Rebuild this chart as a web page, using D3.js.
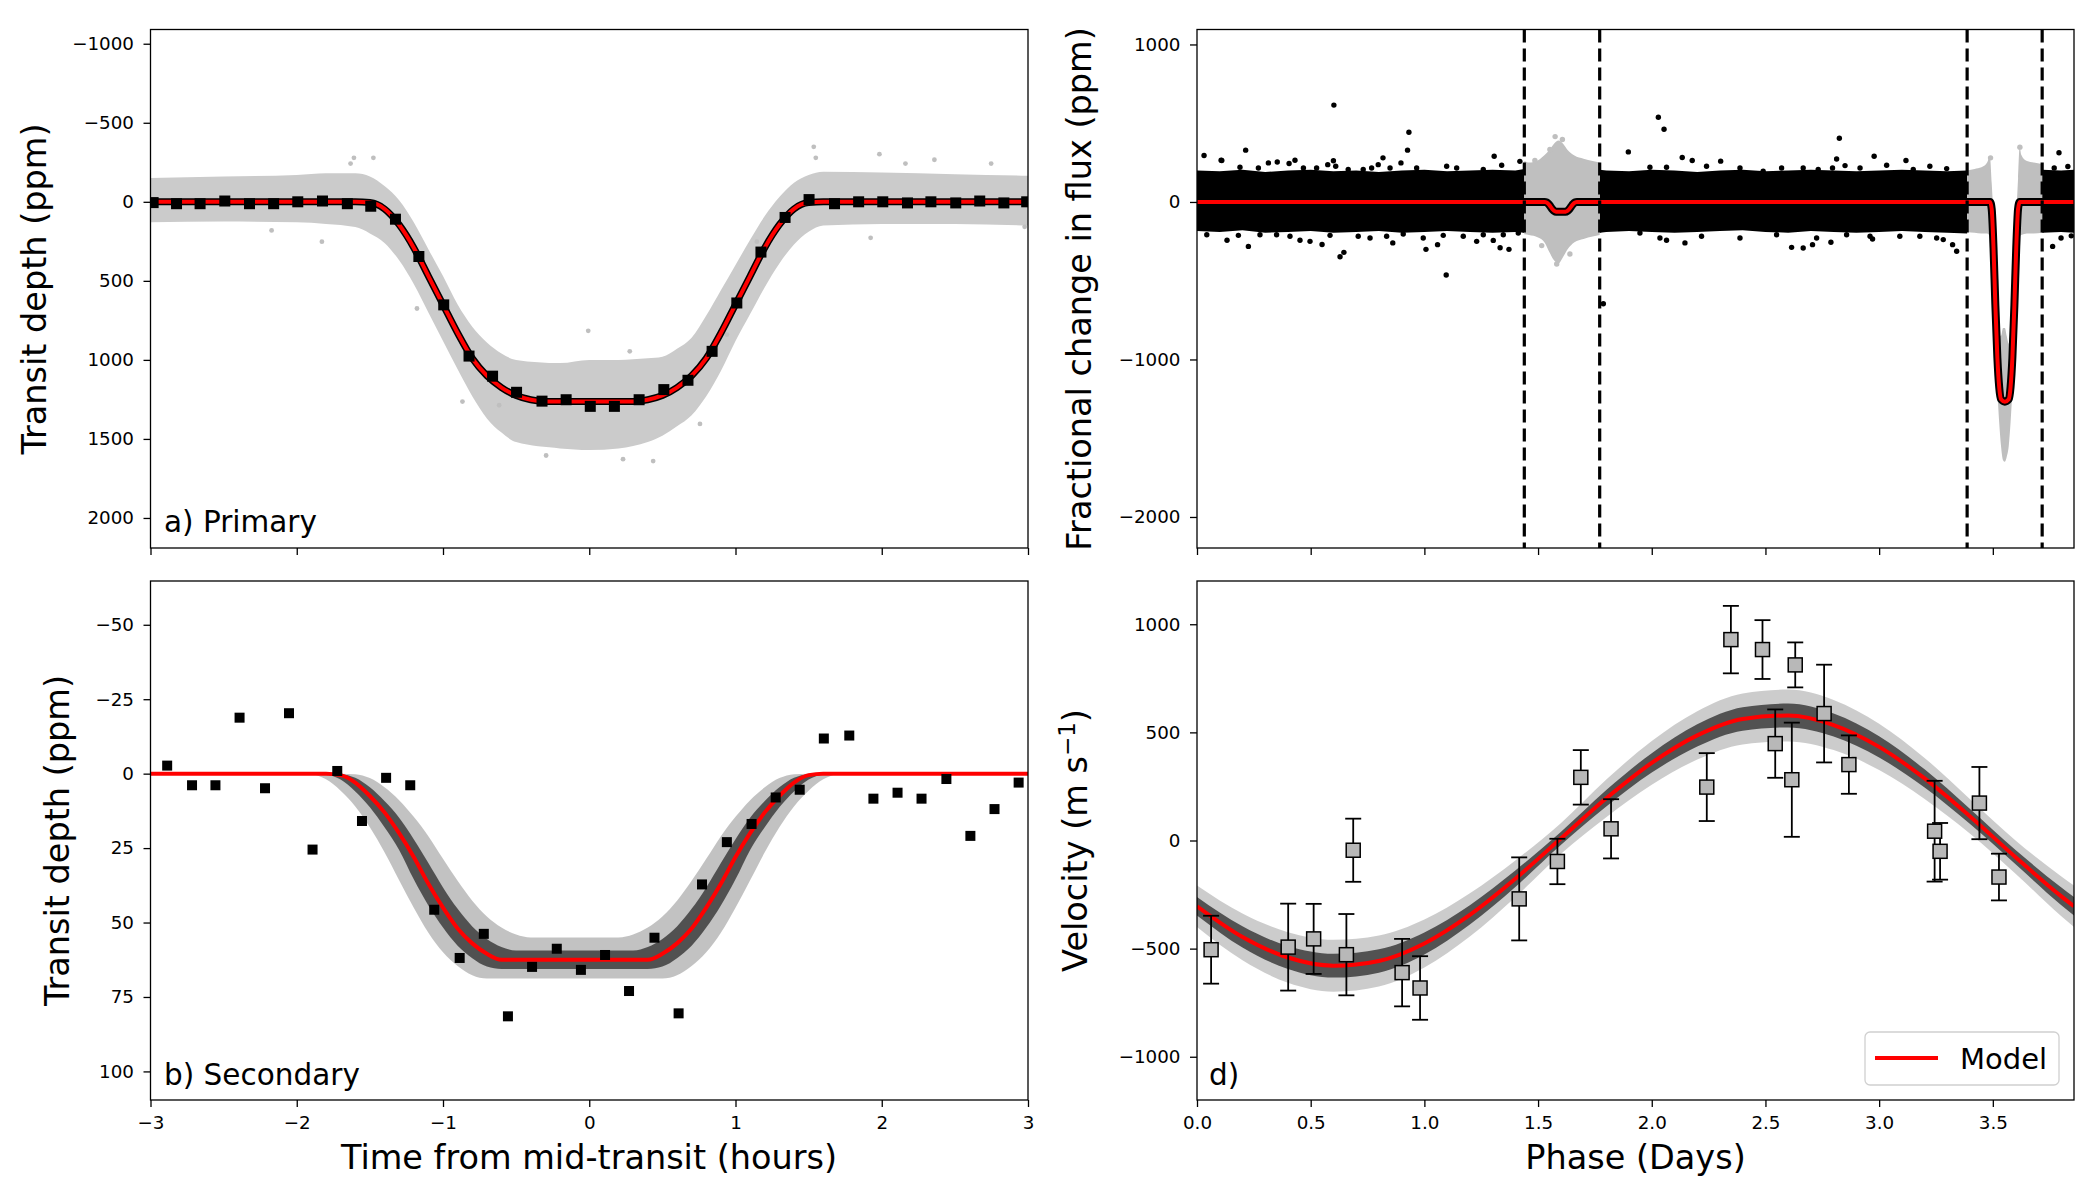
<!DOCTYPE html>
<html>
<head>
<meta charset="utf-8">
<script src="https://cdn.jsdelivr.net/npm/d3@7"></script>
<style>
body { margin: 0; background: #fff; }
svg { font-family: "DejaVu Sans", sans-serif; }
.axis text { font-size: 18.3px; fill: #000; font-family: "DejaVu Sans", sans-serif; }
.axis path { display: none; }
.axis line { stroke: #000; stroke-width: 1.3; }
</style>
</head>
<body>
<svg id="chart" width="2100" height="1200"></svg>
<script>
// ---- a) primary transit (hours, ppm depth) ----
const primBinTime = [-2.982, -2.822, -2.661, -2.492, -2.323, -2.158, -1.993, -1.824, -1.654, -1.494, -1.325, -1.165, -0.995, -0.822, -0.661, -0.497, -0.323, -0.158, 0.007, 0.172, 0.341, 0.510, 0.675, 0.840, 1.009, 1.174, 1.339, 1.503, 1.677, 1.842, 2.007, 2.176, 2.336, 2.506, 2.670, 2.835, 2.991]
const primBinDepth = [5, 12, 12, -5, 12, 12, 0, -5, 12, 28, 110, 346, 652, 976, 1103, 1205, 1261, 1252, 1294, 1294, 1252, 1188, 1129, 946, 640, 318, 99, -14, 12, 0, 0, 7, 0, 7, -5, 7, 0]
const primModelTime = [-3, -1.6, -1.5, -1.4, -1.3, -1.2, -1.1, -1.0, -0.9, -0.8, -0.7, -0.6, -0.5, -0.4, -0.3, 0.3, 0.4, 0.5, 0.6, 0.7, 0.8, 0.9, 1.0, 1.1, 1.2, 1.3, 1.4, 1.5, 1.6, 3]
const primModelDepth = [0, 0, 5, 45, 145, 290, 470, 650, 830, 990, 1100, 1175, 1225, 1252, 1263, 1263, 1252, 1225, 1175, 1100, 990, 830, 650, 470, 290, 145, 45, 5, 0, 0]
// spread of the unbinned (grey) photometry
const primRawTime = [-3.0, -2.5, -2.0, -1.8, -1.6, -1.5, -1.4, -1.3, -1.2, -1.1, -1.0, -0.9, -0.8, -0.7, -0.6, -0.5, -0.2, 0.0, 0.2, 0.4, 0.5, 0.6, 0.7, 0.8, 0.9, 1.0, 1.1, 1.2, 1.3, 1.4, 1.5, 1.6, 2.0, 2.5, 3.0]
const primRawHigh = [-150, -160, -170, -180, -180, -160, -100, -10, 130, 300, 470, 650, 790, 890, 960, 1000, 1020, 1000, 1000, 990, 980, 930, 860, 720, 560, 400, 240, 90, -30, -120, -170, -190, -185, -175, -165]
const primRawLow = [130, 125, 130, 140, 160, 200, 260, 370, 520, 700, 880, 1060, 1230, 1370, 1460, 1520, 1560, 1570, 1560, 1520, 1480, 1420, 1350, 1230, 1070, 880, 710, 540, 390, 270, 190, 150, 140, 140, 150]
const primOutTime = [-1.609, -1.476, -1.632, 1.535, 1.549, 1.984, 2.36, 2.748, 2.162, -0.007, 2.977, 1.924, -1.828, -2.172, -1.178, -0.867, -0.295, 0.437, 0.231, 0.757, 0.277, 1.146, -0.616, 0.941]
const primOutDepth = [-278, -278, -242, -348, -278, -301, -266, -242, -242, 816, 158, 228, 252, 181, 675, 1264, 1605, 1640, 1628, 1405, 946, 252, 1287, 840]

// ---- b) secondary eclipse ----
const secBinTime = [-2.886, -2.716, -2.556, -2.391, -2.217, -2.053, -1.892, -1.723, -1.554, -1.389, -1.224, -1.060, -0.886, -0.721, -0.556, -0.391, -0.222, -0.057, 0.108, 0.272, 0.446, 0.611, 0.771, 0.941, 1.110, 1.275, 1.439, 1.604, 1.778, 1.943, 2.108, 2.272, 2.442, 2.606, 2.771, 2.936]
const secBinDepth = [-2.7, 3.9, 3.9, -18.8, 4.9, -20.3, 25.5, -0.9, 15.9, 1.4, 3.9, 45.7, 61.9, 53.8, 81.5, 64.9, 58.8, 65.9, 60.9, 73.0, 55.1, 80.5, 37.2, 23.0, 16.9, 8.0, 5.4, -11.8, -12.8, 8.4, 6.4, 8.4, 1.8, 20.9, 11.9, 3.0]
const secModelTime = [-3, -1.8, -1.7, -1.6, -1.5, -1.4, -1.3, -1.2, -1.1, -1.0, -0.9, -0.8, -0.7, -0.6, -0.5, 0.3, 0.4, 0.5, 0.6, 0.7, 0.8, 0.9, 1.0, 1.1, 1.2, 1.3, 1.4, 1.5, 1.6, 3]
const secModelDepth = [0, 0, 0.5, 3, 7.5, 13, 20, 28, 37, 45, 52, 57, 60.5, 62.5, 62.5, 62.5, 62.5, 60.5, 57, 52, 45, 37, 28, 20, 13, 7.5, 3, 0.5, 0, 0]
// envelopes of the posterior model draws
const secDrawTime = [-3, -2.0, -1.9, -1.8, -1.7, -1.6, -1.5, -1.4, -1.3, -1.2, -1.1, -1.0, -0.9, -0.8, -0.7, -0.6, -0.5, -0.4, 0.2, 0.3, 0.4, 0.5, 0.6, 0.7, 0.8, 0.9, 1.0, 1.1, 1.2, 1.3, 1.4, 1.5, 1.6, 1.7, 1.8, 3]
const secOuterShallow = [0, 0, 0, 0, 0, 0.2, 1.5, 4.6, 8.9, 14.5, 21, 28.6, 36, 42.7, 48, 51.7, 54, 55, 55, 54, 51.7, 48, 42.7, 36, 28.6, 21, 14.5, 8.9, 4.6, 1.5, 0.2, 0, 0, 0, 0, 0]
const secOuterDeep = [0, 0, 0.2, 1.9, 5.7, 11, 18, 26.4, 35.8, 45, 53.4, 60, 64.6, 67.7, 68.8, 68.8, 68.8, 68.8, 68.8, 68.8, 68.8, 68.8, 67.7, 64.6, 60, 53.4, 45, 35.8, 26.4, 18, 11, 5.7, 1.9, 0.2, 0, 0]
const secInnerShallow = [0, 0, 0, 0, 0.2, 1.4, 4.6, 9.2, 14.8, 22, 30, 38.2, 45.4, 51.3, 55.5, 58.2, 59.4, 59.4, 59.4, 59.4, 58.2, 55.5, 51.3, 45.4, 38.2, 30, 22, 14.8, 9.2, 4.6, 1.4, 0.2, 0, 0, 0, 0]
const secInnerDeep = [0, 0, 0, 0.3, 2, 6, 11.3, 18, 25.6, 35.5, 44.3, 51.7, 57.8, 62, 64.8, 65.6, 65.6, 65.6, 65.6, 65.6, 65.6, 64.8, 62, 57.8, 51.7, 44.3, 35.5, 25.6, 18, 11.3, 6, 2, 0.3, 0, 0, 0]

// ---- c) phase-folded light curve (days, ppm) ----
const eclipseWindows = [1.4395, 1.771, 3.387, 3.717]
const fluxModelPhase = [0, 1.529, 1.5375, 1.546, 1.554, 1.5625, 1.571, 1.579, 1.621, 1.629, 1.6375, 1.646, 1.654, 1.6625, 1.671, 3.488, 3.495, 3.503, 3.511, 3.520, 3.528, 3.536, 3.553, 3.570, 3.578, 3.586, 3.595, 3.603, 3.611, 3.618, 3.857]
const fluxModelValue = [0, 0, -3, -13, -28, -45, -57, -62, -62, -57, -45, -28, -13, -3, 0, 0, -45, -290, -650, -990, -1175, -1252, -1268, -1252, -1175, -990, -650, -290, -45, 0, 0]
// dense black photometry band, out of the eclipse windows
const fluxBand1Phase = [0, 0.1, 0.2, 0.3, 0.4, 0.5, 0.6, 0.7, 0.8, 0.9, 1.0, 1.1, 1.2, 1.3, 1.4, 1.4395]
const fluxBand1Top = [200, 195, 205, 190, 200, 205, 195, 200, 190, 200, 205, 195, 200, 205, 200, 210]
const fluxBand1Bottom = [-185, -190, -180, -195, -190, -185, -195, -190, -185, -195, -190, -185, -190, -195, -190, -195]
const fluxBand2Phase = [1.771, 1.8, 1.9, 2.0, 2.1, 2.2, 2.3, 2.4, 2.5, 2.6, 2.7, 2.8, 2.9, 3.0, 3.1, 3.2, 3.3, 3.387]
const fluxBand2Top = [205, 200, 195, 205, 200, 190, 200, 205, 195, 200, 205, 200, 195, 200, 205, 200, 195, 200]
const fluxBand2Bottom = [-195, -190, -185, -190, -195, -190, -185, -180, -190, -195, -185, -190, -195, -190, -185, -190, -195, -200]
const fluxBand3Phase = [3.717, 3.8, 3.857]
const fluxBand3Top = [205, 200, 205]
const fluxBand3Bottom = [-195, -190, -195]
// grey in-window photometry
const graySecPhase = [1.4395, 1.46, 1.50, 1.53, 1.55, 1.57, 1.59, 1.61, 1.63, 1.66, 1.70, 1.74, 1.771]
const graySecTop = [260, 250, 265, 300, 330, 370, 390, 370, 330, 295, 275, 260, 250]
const graySecBottom = [-205, -210, -225, -260, -320, -370, -390, -350, -300, -255, -235, -220, -210]
const grayPrimPhase = [3.387, 3.42, 3.45, 3.475, 3.487, 3.495, 3.503, 3.511, 3.520, 3.528, 3.536, 3.545, 3.553, 3.561, 3.570, 3.578, 3.586, 3.595, 3.603, 3.611, 3.618, 3.625, 3.65, 3.68, 3.717]
const grayPrimTop = [200, 210, 220, 250, 290, 120, -100, -420, -700, -850, -850, -800, -800, -850, -900, -800, -650, -420, -100, 150, 350, 300, 260, 250, 240]
const grayPrimBottom = [-190, -195, -200, -200, -220, -400, -600, -900, -1200, -1400, -1550, -1640, -1650, -1620, -1550, -1400, -1200, -900, -600, -350, -220, -210, -200, -200, -195]
const grayDotPhase = [1.607, 1.552, 1.486, 1.516, 1.582, 3.619, 3.49, 1.575, 1.64]
const grayDotValue = [397, 333, 263, -277, -394, 348, 280, 415, -330]
const fluxDotPhase = [0.031, 0.214, 0.602, 0.932, 0.926, 1.307, 0.106, 0.6, 0.818, 0.431,
  0.226, 0.132, 0.453, 0.55, 0.646, 0.629, 1.096, 1.007, 1.058, 1.23, 1.333, 1.372, 0.861, 1.787, 1.897,
  2.029, 2.054, 2.825, 2.978, 2.813, 2.134, 3.118, 3.791,
  2.146, 2.615, 2.666, 2.707, 2.788, 2.971, 3.341, 3.323, 3.763, 2.065,
  0.109, 0.189, 0.270, 0.314, 0.353, 0.405, 0.468, 0.526, 0.575, 0.61, 0.665, 0.731, 0.768, 0.797, 0.849, 0.897, 0.966, 1.098, 1.142, 1.259, 1.34, 1.42,
  0.043, 0.182, 0.277, 0.35, 0.409, 0.497, 0.585, 0.709, 0.761, 0.834, 0.907, 0.995, 1.083, 1.171, 1.259, 1.303, 1.347, 1.413,
  1.992, 2.065, 2.178, 2.241, 2.303, 2.388, 2.49, 2.571, 2.666, 2.732, 2.795, 2.85, 2.916, 3.033, 3.15, 3.223, 3.297,
  1.948, 2.036, 2.219, 2.388, 2.549, 2.725, 2.857, 2.96, 3.091, 3.179, 3.253, 3.282,
  3.77, 3.83, 3.80, 3.845]
const fluxDotValue = [295, 329, 615, 443, 329, 290, 265, 262, 280, 265,
  -282, -243, -243, -270, -320, -348, -464, -301, -271, -250, -291, -301, -260, -646, 318,
  538, 462, 405, 290, 273, 282, 263, 312,
  -260, -288, -292, -271, -256, -235, -313, -271, -282, -243,
  263, 220, 216, 248, 254, 244, 216, 216, 237, 227, 206, 206, 216, 237, 216, 248, 216, 227, 216, 206, 233, 258,
  -208, -212, -208, -208, -218, -250, -212, -218, -229, -218, -203, -229, -212, -218, -208, -244, -208, -197,
  220, 220, 263, 227, 259, 216, 195, 216, 216, 206, 216, 231, 216, 233, 206, 227, 212,
  -197, -229, -218, -229, -208, -229, -208, -218, -218, -218, -229, -239,
  216, 225, -229, -215]

// ---- d) radial velocities (days, m/s) ----
const rvPhase = [0.062, 0.401, 0.513, 0.657, 0.687, 0.902, 0.981, 1.417, 1.585, 1.688, 1.821, 2.242, 2.348, 2.487, 2.543, 2.616, 2.631, 2.758, 2.867, 3.244, 3.268, 3.441, 3.527]
const rvVelocity = [-505, -493, -455, -528, -45, -611, -682, -270, -97, 292, 54, 247, 929, 883, 448, 281, 812, 587, 351, 43, -50, 173, -169]
const rvError = [157, 201, 162, 188, 146, 156, 147, 192, 105, 126, 137, 157, 156, 136, 158, 264, 104, 226, 135, 233, 131, 167, 108]
const rvModelPhase = [0, 0.2, 0.4, 0.6, 0.8, 1.0, 1.2, 1.4, 1.6, 1.8, 2.0, 2.2, 2.4, 2.6, 2.8, 3.0, 3.2, 3.4, 3.6, 3.8, 3.857]
const rvModel = [-304, -446, -541, -579, -557, -476, -344, -177, 9, 195, 359, 486, 562, 578, 534, 433, 287, 111, -77, -257, -304]
const rvOuterHigh = [-208, -338, -424, -459, -439, -365, -244, -92, 80, 282, 460, 598, 680, 698, 650, 540, 382, 191, 0, -165, -208]
const rvOuterLow = [-400, -554, -658, -699, -675, -587, -444, -262, -62, 108, 258, 374, 444, 458, 418, 326, 192, 31, -154, -349, -400]
const rvInnerHigh = [-261, -397, -488, -524, -503, -425, -299, -139, 39, 233, 404, 537, 616, 633, 587, 482, 329, 146, -44, -216, -261]
const rvInnerLow = [-347, -495, -594, -634, -611, -527, -389, -215, -21, 157, 314, 435, 508, 523, 481, 384, 245, 76, -110, -298, -347]

// tick values
const depthTicksA = [-1000, -500, 0, 500, 1000, 1500, 2000]
const depthTicksB = [-50, -25, 0, 25, 50, 75, 100]
const fluxTicks = [1000, 0, -1000, -2000]
const rvTicks = [1000, 500, 0, -500, -1000]
const hourTicks = [-3, -2, -1, 0, 1, 2, 3]
const phaseTicks = [0, 0.5, 1, 1.5, 2, 2.5, 3, 3.5]

const RED = "#ff0000"
const svg = d3.select("#chart")
let clipCount = 0

function makePanel(box, xDom, yDom, xTicks, yTicks, xFmt, yFmt) {
  const x = d3.scaleLinear().domain(xDom).range([box.left, box.right])
  const y = d3.scaleLinear().domain(yDom).range([box.top, box.bottom])
  const id = "clip" + (clipCount++)
  svg.append("clipPath").attr("id", id).append("rect")
    .attr("x", box.left).attr("y", box.top)
    .attr("width", box.right - box.left).attr("height", box.bottom - box.top)
  const plot = svg.append("g").attr("clip-path", `url(#${id})`)
  const axes = svg.append("g")
  axes.append("g").attr("class", "axis")
    .attr("transform", `translate(0,${box.bottom})`)
    .call(d3.axisBottom(x).tickValues(xTicks).tickSize(7).tickPadding(9).tickFormat(xFmt))
  axes.append("g").attr("class", "axis")
    .attr("transform", `translate(${box.left},0)`)
    .call(d3.axisLeft(y).tickValues(yTicks).tickSize(7).tickPadding(9.5).tickFormat(yFmt))
  axes.append("rect")
    .attr("x", box.left).attr("y", box.top)
    .attr("width", box.right - box.left).attr("height", box.bottom - box.top)
    .attr("fill", "none").attr("stroke", "#000").attr("stroke-width", 1.3)
  return { x, y, plot, box }
}

const noLabel = () => ""
const intFmt = d3.format("d")

const pa = makePanel({ left: 150.5, right: 1028, top: 29.5, bottom: 548 }, [-3, 3], [-1090, 2190], hourTicks, depthTicksA, noLabel, intFmt)
const pb = makePanel({ left: 150.5, right: 1028, top: 581, bottom: 1100 }, [-3, 3], [-64.7, 109.6], hourTicks, depthTicksB, intFmt, intFmt)
const pc = makePanel({ left: 1197, right: 2074, top: 29.5, bottom: 548 }, [0, 3.857], [1095, -2197], phaseTicks, fluxTicks, noLabel, intFmt)
const pd = makePanel({ left: 1197, right: 2074, top: 581, bottom: 1100 }, [0, 3.857], [1200, -1200], phaseTicks, rvTicks, d3.format(".1f"), intFmt)

function band(p, xs, lo, hi, curve) {
  return d3.area()
    .x((d, i) => p.x(xs[i]))
    .y0((d, i) => p.y(lo[i]))
    .y1((d, i) => p.y(hi[i]))
    .curve(curve || d3.curveMonotoneX)(xs)
}
function line(p, xs, ys, curve) {
  return d3.line()
    .x((d, i) => p.x(xs[i]))
    .y((d, i) => p.y(ys[i]))
    .curve(curve || d3.curveMonotoneX)(xs)
}
function squares(p, xs, ys, size, fill) {
  p.plot.append("g").selectAll("rect")
    .data(xs)
    .join("rect")
    .attr("x", (d, i) => p.x(xs[i]) - size / 2)
    .attr("y", (d, i) => p.y(ys[i]) - size / 2)
    .attr("width", size).attr("height", size)
    .attr("fill", fill)
}
function dots(p, xs, ys, r, fill) {
  p.plot.append("g").selectAll("circle")
    .data(xs)
    .join("circle")
    .attr("cx", (d, i) => p.x(xs[i]))
    .attr("cy", (d, i) => p.y(ys[i]))
    .attr("r", r).attr("fill", fill)
}

// panel a
pa.plot.append("path").attr("d", band(pa, primRawTime, primRawLow, primRawHigh)).attr("fill", "#cbcbcb")
dots(pa, primOutTime, primOutDepth, 2.4, "#bfbfbf")
pa.plot.append("path").attr("d", line(pa, primModelTime, primModelDepth)).attr("fill", "none").attr("stroke", "#000").attr("stroke-width", 7)
pa.plot.append("path").attr("d", line(pa, primModelTime, primModelDepth)).attr("fill", "none").attr("stroke", RED).attr("stroke-width", 4)
squares(pa, primBinTime, primBinDepth, 11, "#000")

// panel b
pb.plot.append("path").attr("d", band(pb, secDrawTime, secOuterDeep, secOuterShallow)).attr("fill", "#000").attr("fill-opacity", 0.24)
pb.plot.append("path").attr("d", band(pb, secDrawTime, secInnerDeep, secInnerShallow)).attr("fill", "#000").attr("fill-opacity", 0.58)
pb.plot.append("path").attr("d", line(pb, secModelTime, secModelDepth)).attr("fill", "none").attr("stroke", RED).attr("stroke-width", 4)
squares(pb, secBinTime, secBinDepth, 10, "#000")

// panel c
pc.plot.append("path").attr("d", band(pc, fluxBand1Phase, fluxBand1Bottom, fluxBand1Top, d3.curveLinear)).attr("fill", "#000")
pc.plot.append("path").attr("d", band(pc, fluxBand2Phase, fluxBand2Bottom, fluxBand2Top, d3.curveLinear)).attr("fill", "#000")
pc.plot.append("path").attr("d", band(pc, fluxBand3Phase, fluxBand3Bottom, fluxBand3Top, d3.curveLinear)).attr("fill", "#000")
dots(pc, fluxDotPhase, fluxDotValue, 2.7, "#000")
pc.plot.append("path").attr("d", band(pc, graySecPhase, graySecBottom, graySecTop)).attr("fill", "#bfbfbf")
pc.plot.append("path").attr("d", band(pc, grayPrimPhase, grayPrimBottom, grayPrimTop)).attr("fill", "#bfbfbf")
dots(pc, grayDotPhase, grayDotValue, 2.7, "#bfbfbf")
pc.plot.append("path").attr("d", line(pc, fluxModelPhase, fluxModelValue)).attr("fill", "none").attr("stroke", "#000").attr("stroke-width", 8)
pc.plot.append("path").attr("d", line(pc, fluxModelPhase, fluxModelValue)).attr("fill", "none").attr("stroke", RED).attr("stroke-width", 4)
pc.plot.append("g").selectAll("line")
  .data(eclipseWindows)
  .join("line")
  .attr("x1", d => pc.x(d)).attr("x2", d => pc.x(d))
  .attr("y1", pc.box.top).attr("y2", pc.box.bottom)
  .attr("stroke", "#000").attr("stroke-width", 3.2).attr("stroke-dasharray", "13,6")

// panel d
pd.plot.append("path").attr("d", band(pd, rvModelPhase, rvOuterLow, rvOuterHigh)).attr("fill", "#000").attr("fill-opacity", 0.2)
pd.plot.append("path").attr("d", band(pd, rvModelPhase, rvInnerLow, rvInnerHigh)).attr("fill", "#000").attr("fill-opacity", 0.6)
pd.plot.append("path").attr("d", line(pd, rvModelPhase, rvModel)).attr("fill", "none").attr("stroke", RED).attr("stroke-width", 4)
const errG = pd.plot.append("g").attr("stroke", "#000").attr("stroke-width", 1.8)
rvPhase.forEach((ph, i) => {
  const cx = pd.x(ph)
  const yHi = pd.y(rvVelocity[i] + rvError[i]), yLo = pd.y(rvVelocity[i] - rvError[i])
  errG.append("line").attr("x1", cx).attr("x2", cx).attr("y1", yHi).attr("y2", yLo)
  errG.append("line").attr("x1", cx - 8).attr("x2", cx + 8).attr("y1", yHi).attr("y2", yHi)
  errG.append("line").attr("x1", cx - 8).attr("x2", cx + 8).attr("y1", yLo).attr("y2", yLo)
})
pd.plot.append("g").selectAll("rect")
  .data(rvPhase)
  .join("rect")
  .attr("x", (d, i) => pd.x(rvPhase[i]) - 7)
  .attr("y", (d, i) => pd.y(rvVelocity[i]) - 7)
  .attr("width", 14).attr("height", 14)
  .attr("fill", "#b8b8b8").attr("stroke", "#000").attr("stroke-width", 1.5)

// legend
const leg = svg.append("g")
leg.append("rect").attr("x", 1865).attr("y", 1032).attr("width", 194).attr("height", 53).attr("rx", 5)
  .attr("fill", "#fff").attr("stroke", "#d0d0d0").attr("stroke-width", 1.3)
leg.append("line").attr("x1", 1875).attr("x2", 1938).attr("y1", 1058).attr("y2", 1058).attr("stroke", RED).attr("stroke-width", 4)
leg.append("text").attr("x", 1960).attr("y", 1068.5).style("font-size", "29px").text("Model")

// axis titles and panel letters
function label(txt, x, y, rot, size) {
  return svg.append("text")
    .attr("transform", `translate(${x},${y})` + (rot ? " rotate(-90)" : ""))
    .attr("text-anchor", "middle").style("font-size", size + "px").text(txt)
}
label("Transit depth (ppm)", 45.5, 289, true, 33.5)
label("Transit depth (ppm)", 69, 840.5, true, 33.5)
label("Fractional change in flux (ppm)", 1090.5, 289, true, 33.5)
const vel = label("Velocity (m s", 1087, 840.5, true, 33.5)
vel.append("tspan").attr("dy", -12).style("font-size", "23px").text("\u22121")
vel.append("tspan").attr("dy", 12).text(")")
label("Time from mid-transit (hours)", 589, 1169, false, 33.5)
label("Phase (Days)", 1635.5, 1169, false, 33.5)

svg.append("text").attr("x", 164).attr("y", 531.5).style("font-size", "29.5px").text("a) Primary")
svg.append("text").attr("x", 164).attr("y", 1085).style("font-size", "29.5px").text("b) Secondary")
svg.append("text").attr("x", 1209).attr("y", 1085).style("font-size", "29.5px").text("d)")
</script>
</body>
</html>
